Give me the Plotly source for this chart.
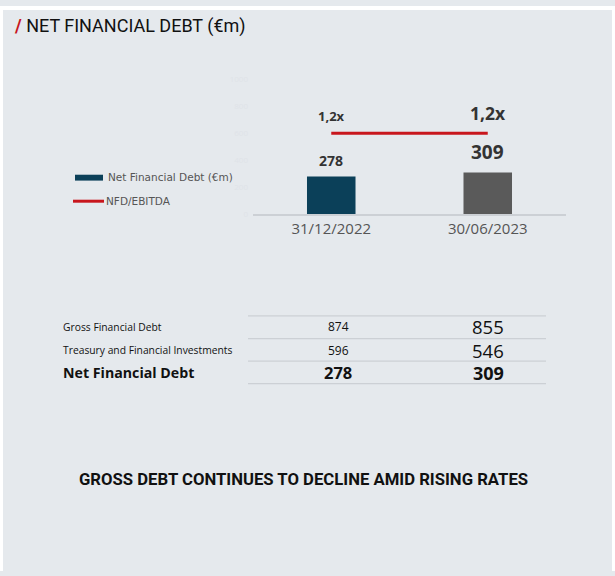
import plotly.graph_objects as go

# chart data
periods = ["31/12/2022", "30/06/2023"]
nfd_values = [278, 309]
nfd_ebitda = [1.2, 1.2]
nfd_labels = ["278", "309"]
ratio_labels = ["1,2x", "1,2x"]

# table data
row_labels = ["Gross Financial Debt", "Treasury and Financial Investments", "Net Financial Debt"]
values_2022 = [874, 596, 278]
values_2023 = [855, 546, 309]

BG = "#e5e9ed"
BAR_COLORS = ["#0b4059", "#5a5a5a"]
RED = "#c8161d"
FONT = "Open Sans"

fig = go.Figure()

fig.add_trace(go.Bar(
    x=periods, y=nfd_values, name="Net Financial Debt (€m)",
    marker=dict(color=BAR_COLORS, line=dict(width=0)),
    width=0.31, yaxis="y", showlegend=False,
    hoverinfo="x+y"
))

fig.add_trace(go.Scatter(
    x=periods, y=nfd_ebitda, name="NFD/EBITDA", mode="lines",
    line=dict(color=RED, width=3), yaxis="y2", showlegend=False
))

annotations = []

# bar value labels
for x, v, lab, size in zip(periods, nfd_values, nfd_labels, [14, 19]):
    annotations.append(dict(x=x, y=v, xref="x", yref="y", text="<b>%s</b>" % lab,
                            showarrow=False, yanchor="bottom", yshift=5,
                            font=dict(family=FONT, size=size, color="#333333")))

# ratio labels
for x, v, lab, size in zip(periods, nfd_ebitda, ratio_labels, [13, 17.5]):
    annotations.append(dict(x=x, y=v, xref="x", yref="y2", text="<b>%s</b>" % lab,
                            showarrow=False, yanchor="bottom", yshift=6,
                            font=dict(family=FONT, size=size, color="#333333")))

# title
annotations.append(dict(x=12 / 615, y=1 - 20 / 576, xref="paper", yref="paper",
                        xanchor="left", yanchor="middle", showarrow=False,
                        text="<span style='color:%s'><b>/</b></span> NET FINANCIAL DEBT (€m)" % RED,
                        font=dict(family="Roboto", size=18, color="#111111")))

# legend
annotations.append(dict(x=106 / 615, y=1 - 174 / 576, xref="paper", yref="paper",
                        xanchor="left", yanchor="middle", showarrow=False,
                        text="Net Financial Debt (€m)",
                        font=dict(family="DejaVu Sans", size=10.5, color="#555555")))
annotations.append(dict(x=104 / 615, y=1 - 199 / 576, xref="paper", yref="paper",
                        xanchor="left", yanchor="middle", showarrow=False,
                        text="NFD/EBITDA",
                        font=dict(family="DejaVu Sans", size=10.5, color="#555555")))

# table
row_y = [327, 351, 374]
for i, (lab, v1, v2) in enumerate(zip(row_labels, values_2022, values_2023)):
    bold = i == len(row_labels) - 1
    yp = 1 - row_y[i] / 576
    annotations.append(dict(x=61 / 615, y=yp, xref="paper", yref="paper",
                            xanchor="left", yanchor="middle", showarrow=False,
                            text="<b>%s</b>" % lab if bold else lab,
                            font=dict(family=FONT, size=14.2 if bold else 10.3, color="#111111")))
    annotations.append(dict(x=338 / 615, y=yp, xref="paper", yref="paper",
                            xanchor="center", yanchor="middle", showarrow=False,
                            text="<b>%d</b>" % v1 if bold else "%d" % v1,
                            font=dict(family=FONT, size=16.5 if bold else 12, color="#111111")))
    annotations.append(dict(x=488 / 615, y=yp, xref="paper", yref="paper",
                            xanchor="center", yanchor="middle", showarrow=False,
                            text="<b>%d</b>" % v2 if bold else "%d" % v2,
                            font=dict(family=FONT, size=18 if bold else 18.5, color="#111111")))

# headline
annotations.append(dict(x=303 / 615, y=1 - 483 / 576, xref="paper", yref="paper",
                        xanchor="center", yanchor="middle", showarrow=False,
                        text="<b>GROSS DEBT CONTINUES TO DECLINE AMID RISING RATES</b>",
                        font=dict(family="Roboto", size=16.7, color="#111111")))

shapes = [
    # white page edges
    dict(type="rect", xref="paper", yref="paper", x0=0, x1=1, y0=1 - 4 / 576, y1=1,
         fillcolor="white", line=dict(width=0), layer="below"),
    dict(type="rect", xref="paper", yref="paper", x0=0, x1=3 / 615, y0=0, y1=1,
         fillcolor="white", line=dict(width=0), layer="below"),
    dict(type="rect", xref="paper", yref="paper", x0=1 - 3 / 615, x1=1, y0=0, y1=1,
         fillcolor="white", line=dict(width=0), layer="below"),
    # legend swatches
    dict(type="rect", xref="paper", yref="paper", x0=75 / 615, x1=103 / 615,
         y0=1 - 178 / 576, y1=1 - 172 / 576, fillcolor=BAR_COLORS[0], line=dict(width=0)),
    dict(type="line", xref="paper", yref="paper", x0=73 / 615, x1=104 / 615,
         y0=1 - 199 / 576, y1=1 - 199 / 576, line=dict(color=RED, width=3)),
]
for ly in [316, 339, 362, 385]:
    shapes.append(dict(type="line", xref="paper", yref="paper", x0=248 / 615, x1=546 / 615,
                       y0=1 - ly / 576, y1=1 - ly / 576, line=dict(color="#ccd0d5", width=1.2)))

fig.update_layout(
    width=615, height=576,
    margin=dict(l=0, r=0, t=0, b=0),
    paper_bgcolor=BG, plot_bgcolor=BG,
    showlegend=False,
    xaxis=dict(domain=[253 / 615, 566 / 615], type="category", range=[-0.5, 1.5],
               showgrid=False, zeroline=False, showline=True, linecolor="#ccd0d5", linewidth=1.5,
               ticks="", tickfont=dict(family=FONT, size=15, color="#555555")),
    yaxis=dict(domain=[1 - 212 / 576, 1 - 75 / 576], range=[0, 1000], dtick=200,
               showgrid=False, zeroline=False, showline=False, ticklabelstandoff=4,
               tickfont=dict(family=FONT, size=8, color="#dfe3e8")),
    yaxis2=dict(domain=[1 - 212 / 576, 1 - 75 / 576], range=[0, 2], overlaying="y",
                side="right", visible=False),
    annotations=annotations,
    shapes=shapes,
)

fig.write_html(
    "out.html",
    config={"displayModeBar": False},
    post_script="document.body.style.margin='0';document.body.style.overflow='hidden';",
)
